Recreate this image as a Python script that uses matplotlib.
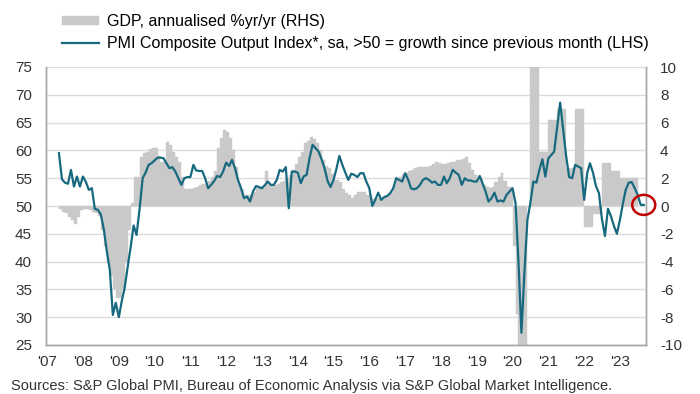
import matplotlib
matplotlib.use("Agg")
import matplotlib.pyplot as plt
import matplotlib.dates as mdates
from matplotlib.patches import Ellipse
import pandas as pd

plt.rcParams['font.family'] = ['Liberation Sans', 'DejaVu Sans']
plt.rcParams['axes.unicode_minus'] = False

# PMI Composite Output Index, monthly (May 2007 - Sep 2023)
pmi_2007 = [59.5, 54.8, 54.2, 54.0, 56.5, 53.5, 55.3, 53.5]
pmi_2008 = [55.3, 54.3, 52.9, 53.2, 49.5, 49.3, 48.5, 45.8, 41.8, 38.5, 30.4, 32.6]
pmi_2009 = [30.0, 33.0, 35.2, 39.0, 42.5, 46.5, 44.8, 49.5, 55.0, 56.0, 57.4, 57.7]
pmi_2010 = [58.2, 58.7, 58.7, 58.6, 57.7, 56.8, 57.0, 56.2, 55.0, 53.8, 55.0, 55.2]
pmi_2011 = [55.2, 57.4, 56.4, 56.3, 56.3, 55.0, 53.2, 53.8, 54.5, 55.4, 55.2, 56.2]
pmi_2012 = [57.8, 57.2, 58.3, 56.8, 54.7, 53.2, 51.4, 51.7, 50.8, 52.6, 53.6, 53.4]
pmi_2013 = [53.2, 53.8, 54.4, 53.8, 53.8, 54.7, 56.5, 56.2, 57.0, 49.6, 56.2, 56.2]
pmi_2014 = [56.0, 54.1, 55.3, 55.6, 58.6, 61.0, 60.4, 59.8, 58.4, 56.8, 54.5, 53.4]
pmi_2015 = [54.7, 56.8, 59.0, 57.4, 56.0, 54.7, 55.8, 55.6, 55.2, 55.9, 55.9, 54.4]
pmi_2016 = [53.2, 50.0, 51.1, 52.4, 51.1, 51.6, 51.8, 52.3, 53.2, 55.0, 54.7, 54.4]
pmi_2017 = [55.9, 54.7, 53.2, 53.0, 53.2, 53.8, 54.7, 55.0, 54.7, 54.2, 54.4, 53.8]
pmi_2018 = [53.8, 55.3, 54.1, 55.0, 56.5, 56.0, 55.6, 53.8, 55.0, 54.6, 54.6, 54.4]
pmi_2019 = [54.4, 55.4, 54.1, 52.6, 50.8, 51.4, 52.4, 50.8, 51.0, 50.8, 52.0, 52.6]
pmi_2020 = [53.2, 50.5, 40.3, 27.2, 37.9, 47.5, 50.5, 54.4, 54.2, 56.5, 58.4, 55.3]
pmi_2021 = [58.6, 59.2, 59.8, 64.3, 68.6, 63.7, 59.0, 55.2, 55.0, 57.4, 57.1, 56.8]
pmi_2022 = [51.1, 55.9, 57.7, 56.0, 53.6, 52.3, 47.7, 44.6, 49.5, 48.2, 46.4, 45.0]
pmi_2023 = [47.5, 50.5, 52.9, 54.2, 54.3, 53.2, 52.0, 50.2, 50.2]

# GDP, annualised %, monthly (May 2007 - Jun 2023)
gdp_2007 = [-0.2, -0.4, -0.5, -0.8, -1.0, -1.3, -0.8, -0.3]
gdp_2008 = [-0.2, -0.2, -0.3, -0.4, -0.5, -0.7, -1.7, -2.9, -4.1, -5.0, -6.0, -6.6]
gdp_2009 = [-6.6, -6.0, -4.1, -1.7, 0.2, 2.1, 2.1, 3.5, 3.8, 3.9, 4.1, 4.2]
gdp_2010 = [4.2, 3.6, 3.2, 3.2, 4.6, 4.4, 3.9, 3.5, 3.2, 2.1, 1.2, 1.2]
gdp_2011 = [1.2, 1.3, 1.4, 1.5, 1.6, 1.6, 1.8, 2.1, 2.5, 4.2, 4.9, 5.5]
gdp_2012 = [5.3, 4.9, 4.0, 2.8, 1.6, 1.2, 0.8, 0.8, 0.8, 1.0, 1.3, 1.4]
gdp_2013 = [1.3, 2.5, 1.5, 1.5, 1.5, 1.6, 1.7, 1.8, 2.0, 2.2, 2.6, 3.0]
gdp_2014 = [3.5, 3.9, 4.5, 4.7, 5.0, 4.8, 4.5, 4.0, 3.3, 2.9, 2.7, 2.3]
gdp_2015 = [1.9, 1.9, 1.7, 1.2, 0.9, 0.8, 0.6, 0.8, 1.0, 1.0, 1.0, 0.8]
gdp_2016 = [0.8, 0.5, 0.5, 0.6, 0.6, 0.7, 0.8, 0.9, 1.5, 2.0, 2.1, 2.3]
gdp_2017 = [2.4, 2.5, 2.6, 2.7, 2.8, 2.8, 2.8, 2.8, 2.9, 3.0, 3.2, 3.1]
gdp_2018 = [3.0, 3.0, 3.1, 3.2, 3.2, 3.3, 3.3, 3.4, 3.5, 3.1, 2.6, 2.2]
gdp_2019 = [2.0, 1.9, 1.5, 1.4, 1.3, 1.4, 1.7, 2.1, 2.4, 1.8, 1.4, 1.4]
gdp_2020 = [-2.9, -7.8, -10.5, -10.5, -10.5, 0.0, 10.5, 10.5, 10.5, 3.9, 3.9, 3.9]
gdp_2021 = [6.2, 6.2, 6.2, 7.0, 7.0, 7.0, 2.7, 2.7, 2.7, 7.0, 7.0, 7.0]
gdp_2022 = [-1.5, -1.5, -1.5, -0.6, -0.6, -0.6, 3.1, 3.1, 3.1, 2.5, 2.5, 2.5]
gdp_2023 = [2.0, 2.0, 2.0, 2.0, 2.0, 2.0]

year_labels = ["'07", "'08", "'09", "'10", "'11", "'12", "'13", "'14", "'15",
               "'16", "'17", "'18", "'19", "'20", "'21", "'22", "'23"]

pmi = (pmi_2007 + pmi_2008 + pmi_2009 + pmi_2010 + pmi_2011 + pmi_2012 + pmi_2013
       + pmi_2014 + pmi_2015 + pmi_2016 + pmi_2017 + pmi_2018 + pmi_2019 + pmi_2020
       + pmi_2021 + pmi_2022 + pmi_2023)
gdp = (gdp_2007 + gdp_2008 + gdp_2009 + gdp_2010 + gdp_2011 + gdp_2012 + gdp_2013
       + gdp_2014 + gdp_2015 + gdp_2016 + gdp_2017 + gdp_2018 + gdp_2019 + gdp_2020
       + gdp_2021 + gdp_2022 + gdp_2023)

pmi_dates = pd.date_range("2007-05-01", periods=len(pmi), freq="MS")
gdp_dates = pd.date_range("2007-05-01", periods=len(gdp), freq="MS")
gdp_widths = gdp_dates.days_in_month

teal = "#17697f"
grey = "#c9c9c9"
axis_grey = "#a6a6a6"

fig = plt.figure(figsize=(7, 3.94), dpi=100)
ax = fig.add_axes([46 / 700, 1 - 345 / 394, 600 / 700, 278 / 394])
ax2 = ax.twinx()

# GDP bars (right axis), drawn underneath
bars = ax2.bar(gdp_dates, gdp, width=gdp_widths, align="edge", color=grey,
               edgecolor=grey, linewidth=0.3, zorder=2)
ax2.set_ylim(-10, 10)
ax2.set_yticks(range(-10, 11, 2))
ax2.grid(axis="y", color="#dcdcdc", linewidth=1, zorder=0)
ax2.set_axisbelow(True)

# PMI line (left axis), on top
line, = ax.plot(pmi_dates, pmi, color=teal, linewidth=1.6, zorder=3)
ax.set_ylim(25, 75)
ax.set_yticks(range(25, 80, 5))
ax.set_zorder(ax2.get_zorder() + 1)
ax.patch.set_visible(False)

ax.set_xlim(pd.Timestamp("2006-12-20"), pd.Timestamp("2023-09-24"))
ax.set_xticks(pd.date_range("2007-01-01", "2023-01-01", freq="YS"))
ax.set_xticklabels(year_labels)

for a in (ax, ax2):
    a.tick_params(length=0, labelsize=11, colors="#333333")
    for side in ("left", "right", "bottom"):
        a.spines[side].set_color(axis_grey)
        a.spines[side].set_linewidth(1)
    a.spines["top"].set_visible(False)
ax.tick_params(axis="y", pad=10)
ax2.tick_params(axis="y", pad=10)
ax.tick_params(axis="x", pad=7)

# red circle on latest reading
circle = Ellipse((mdates.date2num(pmi_dates[-1]), pmi[-1]), width=235, height=3.6,
                 fill=False, edgecolor="#c00000", linewidth=1.8, clip_on=False, zorder=5)
ax.add_patch(circle)

fig.legend([bars, line],
           ["GDP, annualised %yr/yr (RHS)",
            "PMI Composite Output Index*, sa, >50 = growth since previous month (LHS)"],
           loc="upper left", bbox_to_anchor=(62 / 700, 1 - 14 / 394), frameon=False,
           fontsize=11.5, handlelength=2.3, handleheight=0.5, handletextpad=0.5,
           labelspacing=0.45, borderpad=0, borderaxespad=0)

fig.text(11 / 700, 1 / 394,
         "Sources: S&P Global PMI, Bureau of Economic Analysis via S&P Global Market Intelligence.",
         fontsize=10.5, color="#333333", va="bottom", ha="left")

fig.savefig("out.png", dpi=100)
plt.close(fig)
